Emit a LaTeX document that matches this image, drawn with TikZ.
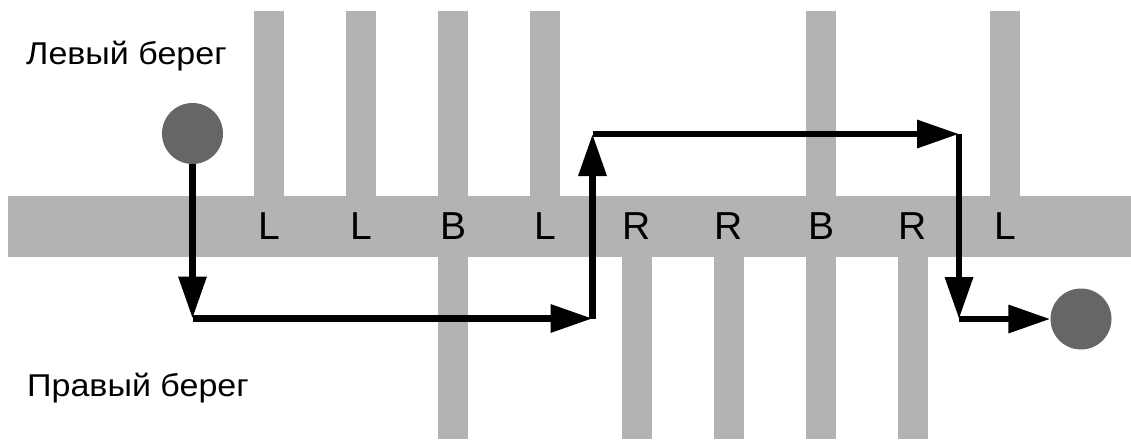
\documentclass[tikz,border=0pt]{standalone}
\usepackage{fontspec}
\setmainfont{Liberation Sans}
\newfontfamily\bankfont[FakeStretch=1.08]{Liberation Sans}
\usetikzlibrary{arrows.meta}
\definecolor{barc}{HTML}{B3B3B3}
\definecolor{ballc}{HTML}{666666}
\begin{document}
\begin{tikzpicture}[x=1pt,y=-1pt,
  bar/.style={fill=barc},
  lab/.style={font=\fontsize{39}{44}\selectfont, anchor=base, inner sep=0pt},
  bank/.style={font=\bankfont\fontsize{31.5}{36}\selectfont, anchor=base west, inner sep=0pt},
  ball/.style={circle, fill=ballc, minimum size=61pt, inner sep=0pt},
  move/.style={line width=6.5pt, -{Triangle[length=42pt,width=27pt]}}]
\useasboundingbox (0,0) rectangle (1131,439);
% piers on the upper side
\foreach \x in {269,361,453,545,821,1005}
  \fill[bar] (\x-15,11) rectangle (\x+15,196);
% piers on the lower side
\foreach \x in {453,637,729,821,913}
  \fill[bar] (\x-15,256) rectangle (\x+15,439);
% the bridge
\fill[bar] (8,196) rectangle (1131,257);
% labels
\foreach \x/\t/\n in {269/L/l1,361/L/l2,453/B/l3,545/L/l4,637/R/l5,729/R/l6,821/B/l7,913/R/l8,1005/L/l9}
  \node[lab] (\n) at (\x,239) {\t};
\node[bank] (left) at (26,64.5) {Левый берег};
\node[bank] (right) at (27,396.5) {Правый берег};
% balls
\node[ball] (start) at (192.5,133.5) {};
\node[ball] (goal) at (1081,319) {};
% corners
\coordinate (c1) at (192.5,318.5);
\coordinate (c2) at (592.5,318.5);
\coordinate (c3) at (592.5,134);
\coordinate (c4) at (959,134);
\coordinate (c5) at (959,319);
\draw[move] (start.south) -- (c1);
\draw[move] (c1) -- (c2);
\draw[move] (c2) -- (c3);
\draw[move] (c3) -- (c4);
\draw[move] (c4) -- (c5);
\draw[move] (c5) -- (goal.west);
\end{tikzpicture}
\end{document}
